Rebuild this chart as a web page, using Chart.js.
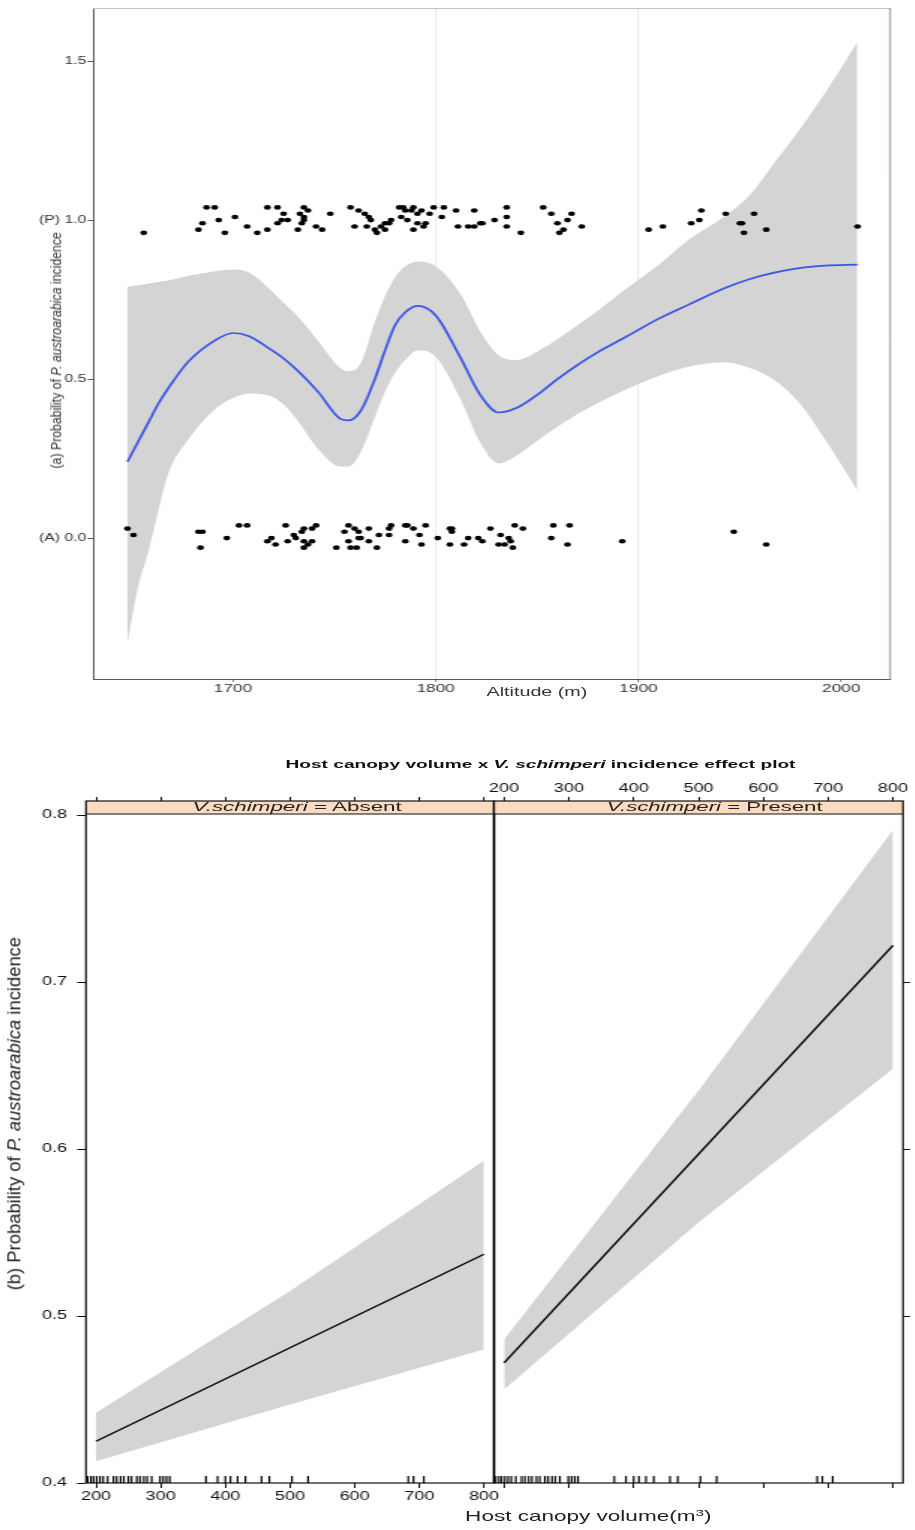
<!DOCTYPE html>
<html>
<head>
<meta charset="utf-8">
<title>P. austroarabica incidence</title>
<script src="https://cdn.jsdelivr.net/npm/chart.js@4.4.1/dist/chart.umd.min.js"></script>
<style>
  html, body { margin: 0; padding: 0; background: #fff; }
  body { width: 915px; height: 1530px; position: relative; overflow: hidden; font-family: "Liberation Sans", Arial, sans-serif; }
  .wrap { position: absolute; transform: scaleX(1.5); transform-origin: 0 0; }
  .wrap canvas { display: block; }
  .txt { position: absolute; white-space: nowrap; line-height: 1.15; transform-origin: 50% 50%; }
  sup { font-size: 0.68em; line-height: 0; vertical-align: 0.55em; }
</style>
</head>
<body>

<!-- the source figure is stretched 1.5x horizontally, so each canvas is drawn narrow and widened -->
<div class="wrap" style="left:0;top:0"><canvas id="altChart" width="610" height="720"></canvas></div>
<div class="wrap" style="left:0;top:740px"><canvas id="absChart" width="336" height="790"></canvas></div>
<div class="wrap" style="left:484px;top:740px"><canvas id="presChart" width="288" height="790"></canvas></div>

<div class="txt" id="tA" style="font-size:11px;color:#333">(a) Probability of <i>P. austroarabica</i> incidence</div>
<div class="txt" id="tAlt" style="font-size:12.5px;color:#333">Altitude (m)</div>
<div class="txt" id="tMain" style="font-size:11.5px;font-weight:bold;color:#111">Host canopy volume x <i>V. schimperi</i> incidence effect plot</div>
<div class="txt" id="tAbs" style="font-size:13.5px;color:#222"><i>V.schimperi</i> = Absent</div>
<div class="txt" id="tPres" style="font-size:13.5px;color:#222"><i>V.schimperi</i> = Present</div>
<div class="txt" id="tB" style="font-size:15px;color:#222">(b) Probability of <i>P. austroarabica</i> incidence</div>
<div class="txt" id="tVol" style="font-size:14.5px;color:#222">Host canopy volume(m<sup>3</sup>)</div>

<script>
// ---------- (a) altitude panel ----------
const altTicks = [1700, 1800, 1900, 2000];
const probTicks = [0, 0.5, 1, 1.5];
const probTickLabels = ['(A) 0.0', '0.5', '(P) 1.0', '1.5'];

// smooth fit and its confidence band
const bandAlt = [1648, 1653, 1658, 1663, 1668, 1678, 1692, 1700, 1708, 1717, 1725, 1733, 1742, 1753, 1757, 1763, 1770, 1775, 1780, 1785, 1791, 1800, 1812, 1822, 1831, 1840, 1851, 1860, 1870, 1880, 1893, 1910, 1925, 1942, 1955, 1967, 1980, 1992, 2008];
const fitProb = [0.24, 0.30, 0.36, 0.42, 0.47, 0.555, 0.625, 0.645, 0.635, 0.60, 0.565, 0.52, 0.46, 0.375, 0.37, 0.40, 0.50, 0.59, 0.67, 0.71, 0.73, 0.70, 0.57, 0.45, 0.395, 0.41, 0.455, 0.50, 0.545, 0.585, 0.63, 0.69, 0.735, 0.785, 0.815, 0.835, 0.85, 0.857, 0.86];
const upperProb = [0.79, 0.795, 0.80, 0.805, 0.81, 0.825, 0.84, 0.845, 0.835, 0.79, 0.74, 0.69, 0.62, 0.535, 0.525, 0.55, 0.68, 0.76, 0.82, 0.855, 0.87, 0.855, 0.77, 0.65, 0.575, 0.56, 0.59, 0.625, 0.67, 0.715, 0.78, 0.86, 0.94, 1.01, 1.08, 1.18, 1.29, 1.40, 1.56];
const lowerProb = [-0.33, -0.16, -0.05, 0.08, 0.20, 0.31, 0.41, 0.44, 0.455, 0.45, 0.42, 0.36, 0.28, 0.225, 0.225, 0.27, 0.38, 0.46, 0.52, 0.56, 0.59, 0.57, 0.44, 0.30, 0.235, 0.26, 0.31, 0.35, 0.39, 0.425, 0.465, 0.51, 0.54, 0.553, 0.535, 0.497, 0.42, 0.31, 0.15];

// observed trees (jittered around 1 = present, 0 = absent)
const presentAlt = [1656, 1683, 1685, 1687, 1691, 1693, 1696, 1701, 1707, 1712, 1717, 1717, 1722, 1722, 1724, 1725, 1727, 1732, 1733, 1734, 1735, 1735, 1735, 1737, 1741, 1744, 1748, 1758, 1760, 1762, 1765, 1766, 1767, 1768, 1770, 1771, 1773, 1775, 1775, 1777, 1778, 1782, 1783, 1784, 1785, 1786, 1788, 1789, 1789, 1791, 1791, 1793, 1794, 1795, 1797, 1799, 1803, 1804, 1810, 1811, 1816, 1819, 1819, 1822, 1823, 1829, 1835, 1835, 1835, 1842, 1853, 1857, 1860, 1861, 1863, 1865, 1867, 1872, 1905, 1912, 1926, 1930, 1931, 1943, 1950, 1951, 1952, 1957, 1963, 2008];
const presentProb = [0.96, 0.97, 0.99, 1.04, 1.04, 1.00, 0.96, 1.01, 0.98, 0.96, 0.97, 1.04, 1.04, 0.99, 1.00, 1.02, 1.00, 0.97, 1.02, 0.99, 1.04, 1.01, 1.00, 1.03, 0.98, 0.97, 1.02, 1.04, 0.98, 1.03, 1.02, 0.98, 1.01, 1.00, 0.97, 0.96, 0.98, 0.99, 0.97, 0.99, 1.00, 1.04, 1.01, 1.04, 1.03, 1.00, 1.03, 0.97, 1.04, 1.02, 0.99, 1.03, 0.98, 0.99, 1.02, 1.04, 1.01, 1.04, 1.03, 0.98, 0.98, 1.03, 0.98, 0.99, 0.99, 1.00, 1.04, 1.01, 0.98, 0.96, 1.04, 1.02, 0.99, 0.96, 0.97, 1.00, 1.02, 0.98, 0.97, 0.98, 0.99, 1.00, 1.03, 1.02, 0.99, 0.99, 0.96, 1.02, 0.97, 0.98];
const absentAlt = [1648, 1651, 1683, 1685, 1684, 1697, 1703, 1707, 1717, 1721, 1719, 1726, 1727, 1730, 1731, 1734, 1735, 1735, 1737, 1739, 1735, 1741, 1739, 1751, 1757, 1755, 1757, 1760, 1762, 1762, 1758, 1761, 1763, 1767, 1767, 1771, 1772, 1777, 1777, 1778, 1785, 1786, 1785, 1789, 1792, 1795, 1793, 1801, 1808, 1808, 1807, 1807, 1814, 1816, 1821, 1823, 1827, 1832, 1831, 1834, 1836, 1837, 1838, 1839, 1843, 1857, 1858, 1866, 1865, 1892, 1947, 1963];
const absentProb = [0.03, 0.01, 0.02, 0.02, -0.03, 0.00, 0.04, 0.04, -0.01, -0.02, 0.00, 0.04, -0.01, 0.01, 0.00, 0.02, 0.03, -0.01, -0.02, -0.01, -0.03, 0.04, 0.03, -0.03, 0.04, 0.02, -0.01, 0.03, 0.02, 0.00, -0.03, -0.03, 0.00, 0.03, -0.01, -0.03, 0.01, 0.03, 0.01, 0.04, 0.04, 0.04, -0.01, 0.03, 0.01, 0.04, -0.02, 0.00, 0.03, 0.02, -0.02, 0.03, -0.02, 0.00, 0.00, -0.01, 0.03, 0.01, -0.02, -0.02, 0.00, -0.01, -0.03, 0.04, 0.03, 0.00, 0.04, 0.04, -0.02, -0.01, 0.02, -0.02];

// ---------- (b) canopy volume panels ----------
const volTicks = [200, 300, 400, 500, 600, 700, 800];
const effTicks = [0.4, 0.5, 0.6, 0.7, 0.8];
const effTickLabels = ['0.4', '0.5', '0.6', '0.7', '0.8'];
const bandVol = [200, 500, 800];
const absentFit = [0.425, 0.481, 0.537];
const absentUpper = [0.442, 0.515, 0.593];
const absentLower = [0.413, 0.447, 0.48];
const presentFit = [0.472, 0.597, 0.722];
const presentUpper = [0.486, 0.635, 0.791];
const presentLower = [0.456, 0.556, 0.648];
// rug of observed canopy volumes
const rugVol = [187, 192, 196, 201, 206, 211, 218, 227, 232, 238, 243, 250, 255, 263, 268, 274, 279, 286, 299, 304, 309, 314, 370, 388, 400, 408, 419, 431, 456, 468, 503, 528, 683, 691, 707];

const pts = (xs, ys) => xs.map((x, i) => ({ x: x, y: ys[i] }));
const BAND = '#d4d4d4';
const BLUE = '#3b55e6';

// light frame on the top / right of panel (a)
const altFrame = {
    id: 'altFrame',
    afterDraw(chart) {
        const { ctx, chartArea: a } = chart;
        ctx.save();
        ctx.strokeStyle = '#c4c4c4';
        ctx.lineWidth = 1;
        ctx.beginPath();
        ctx.moveTo(a.left, a.top + 0.5);
        ctx.lineTo(a.right, a.top + 0.5);
        ctx.stroke();
        ctx.strokeStyle = '#9a9a9a';
        ctx.beginPath();
        ctx.moveTo(a.right, a.top);
        ctx.lineTo(a.right, a.bottom);
        ctx.stroke();
        ctx.restore();
    }
};

new Chart(document.getElementById('altChart'), {
    type: 'scatter',
    data: {
        datasets: [
            { data: pts(presentAlt, presentProb), backgroundColor: '#000', borderWidth: 0, pointRadius: 2.3, order: 0 },
            { data: pts(absentAlt, absentProb), backgroundColor: '#000', borderWidth: 0, pointRadius: 2.3, order: 0 },
            { type: 'line', data: pts(bandAlt, fitProb), borderColor: BLUE, borderWidth: 1.7, pointRadius: 0, fill: false, cubicInterpolationMode: 'monotone', order: 1 },
            { type: 'line', data: pts(bandAlt, upperProb), borderWidth: 0, pointRadius: 0, backgroundColor: BAND, fill: '+1', cubicInterpolationMode: 'monotone', order: 2 },
            { type: 'line', data: pts(bandAlt, lowerProb), borderWidth: 0, pointRadius: 0, fill: false, cubicInterpolationMode: 'monotone', order: 3 }
        ]
    },
    options: {
        responsive: false,
        animation: false,
        events: [],
        layout: { padding: { top: 8, right: 16.7, left: 0, bottom: 0 } },
        plugins: { legend: { display: false }, tooltip: { enabled: false } },
        scales: {
            x: {
                type: 'linear', min: 1631, max: 2024,
                afterBuildTicks: s => { s.ticks = altTicks.map(v => ({ value: v })); },
                afterFit: s => { s.height = 41; },
                ticks: { color: '#333', font: { family: 'Liberation Sans', size: 11.5 }, padding: 0, maxRotation: 0,
                         callback: v => String(v) },
                grid: {
                    color: c => (c.tick && (c.tick.value === 1800 || c.tick.value === 1900)) ? '#e2e2e2' : 'rgba(0,0,0,0)',
                    tickColor: '#555', tickLength: 3, lineWidth: 0.7
                },
                border: { display: true, color: '#555', width: 1 }
            },
            y: {
                min: -0.443, max: 1.667,
                afterBuildTicks: s => { s.ticks = probTicks.map(v => ({ value: v })); },
                afterFit: s => { s.width = 62; },
                ticks: { color: '#333', font: { family: 'Liberation Sans', size: 10.5 }, padding: 1,
                         callback: v => probTickLabels[probTicks.indexOf(v)] },
                grid: { drawOnChartArea: false, tickColor: '#555', tickLength: 3.5 },
                border: { display: true, color: '#555', width: 1 }
            }
        }
    },
    plugins: [altFrame]
});

// strip, rug and black frame for each effect panel
const effectFrame = {
    id: 'effectFrame',
    afterDatasetsDraw(chart) {
        const { ctx, chartArea: a, scales } = chart;
        const stripH = 13;
        ctx.save();
        ctx.fillStyle = '#fcdcc0';
        ctx.fillRect(a.left, a.top, a.right - a.left, stripH);
        ctx.strokeStyle = '#111';
        ctx.lineWidth = 1;
        ctx.beginPath();
        ctx.moveTo(a.left, a.top + stripH);
        ctx.lineTo(a.right, a.top + stripH);
        ctx.stroke();
        ctx.lineWidth = 1.2;
        ctx.strokeRect(a.left, a.top, a.right - a.left, a.bottom - a.top);
        ctx.strokeStyle = '#000';
        rugVol.forEach(v => {
            const x = scales.x.getPixelForValue(v);
            ctx.beginPath();
            ctx.moveTo(x, a.bottom);
            ctx.lineTo(x, a.bottom - 7);
            ctx.stroke();
        });
        ctx.restore();
    }
};

function effectChart(id, fit, upper, lower, opts) {
    const tickFont = { family: 'Liberation Sans', size: 12 };
    return new Chart(document.getElementById(id), {
        type: 'scatter',
        data: {
            datasets: [
                { type: 'line', data: pts(bandVol, fit), borderColor: '#000', borderWidth: 1.4, pointRadius: 0, fill: false, order: 0 },
                { type: 'line', data: pts(bandVol, upper), borderWidth: 0, pointRadius: 0, backgroundColor: BAND, fill: '+1', order: 1 },
                { type: 'line', data: pts(bandVol, lower), borderWidth: 0, pointRadius: 0, fill: false, order: 2 }
            ]
        },
        options: {
            responsive: false,
            animation: false,
            events: [],
            layout: { padding: { top: 41, left: opts.padLeft, right: opts.padRight, bottom: 0 } },
            plugins: { legend: { display: false }, tooltip: { enabled: false } },
            scales: {
                x: {
                    type: 'linear', position: 'bottom', min: 184.5, max: 815.5,
                    afterBuildTicks: s => { s.ticks = volTicks.map(v => ({ value: v })); },
                    afterFit: s => { s.height = 47; },
                    ticks: { display: opts.bottomLabels, color: '#111', font: tickFont, padding: 1, maxRotation: 0 },
                    grid: { drawOnChartArea: false, color: '#111', tickColor: '#111', tickLength: 5 },
                    border: { display: false }
                },
                xTop: {
                    type: 'linear', position: 'top', min: 184.5, max: 815.5,
                    afterBuildTicks: s => { s.ticks = volTicks.map(v => ({ value: v })); },
                    afterFit: s => { s.height = 20; },
                    ticks: { display: opts.topLabels, color: '#111', font: tickFont, padding: 1, maxRotation: 0 },
                    grid: { drawOnChartArea: false, color: '#111', tickColor: '#111', tickLength: 4 },
                    border: { display: false }
                },
                y: {
                    position: opts.yPos, min: 0.4, max: 0.8084,
                    afterBuildTicks: s => { s.ticks = opts.yTicks.map(v => ({ value: v })); },
                    afterFit: s => { s.width = opts.yWidth; },
                    ticks: { display: opts.yLabels, color: '#111', font: tickFont, padding: 6.6,
                             callback: v => effTickLabels[effTicks.indexOf(v)] },
                    grid: { drawOnChartArea: false, color: '#111', tickColor: '#111', tickLength: opts.yTick },
                    border: { display: false }
                }
            }
        },
        plugins: [effectFrame]
    });
}

effectChart('absChart', absentFit, absentUpper, absentLower,
    { padLeft: 0, padRight: 6.67, yPos: 'left', yWidth: 57.33, yLabels: true, yTick: 6, yTicks: effTicks, topLabels: false, bottomLabels: true });
effectChart('presChart', presentFit, presentUpper, presentLower,
    { padLeft: 6.67, padRight: 0, yPos: 'right', yWidth: 8.67, yLabels: false, yTick: 4.7, yTicks: effTicks.slice(1, 4), topLabels: true, bottomLabels: false });

// HTML titles, fitted to the widths measured on the figure
function placeText(id, cx, cy, len, rotated, sy) {
    const el = document.getElementById(id);
    const w = el.offsetWidth, h = el.offsetHeight;
    el.style.left = (cx - w / 2) + 'px';
    el.style.top = (cy - h / 2) + 'px';
    el.style.transform = (rotated ? 'rotate(-90deg) ' : '') + 'scale(' + (len / w) + ',' + (sy || 1) + ')';
}
placeText('tA', 55, 350, 236, true, 1.35);
placeText('tAlt', 537, 692, 101);
placeText('tMain', 540, 764, 510);
placeText('tAbs', 297, 807, 209);
placeText('tPres', 714, 807, 215);
placeText('tB', 13, 1113, 353, true, 1.25);
placeText('tVol', 588, 1516, 247);
</script>
</body>
</html>
